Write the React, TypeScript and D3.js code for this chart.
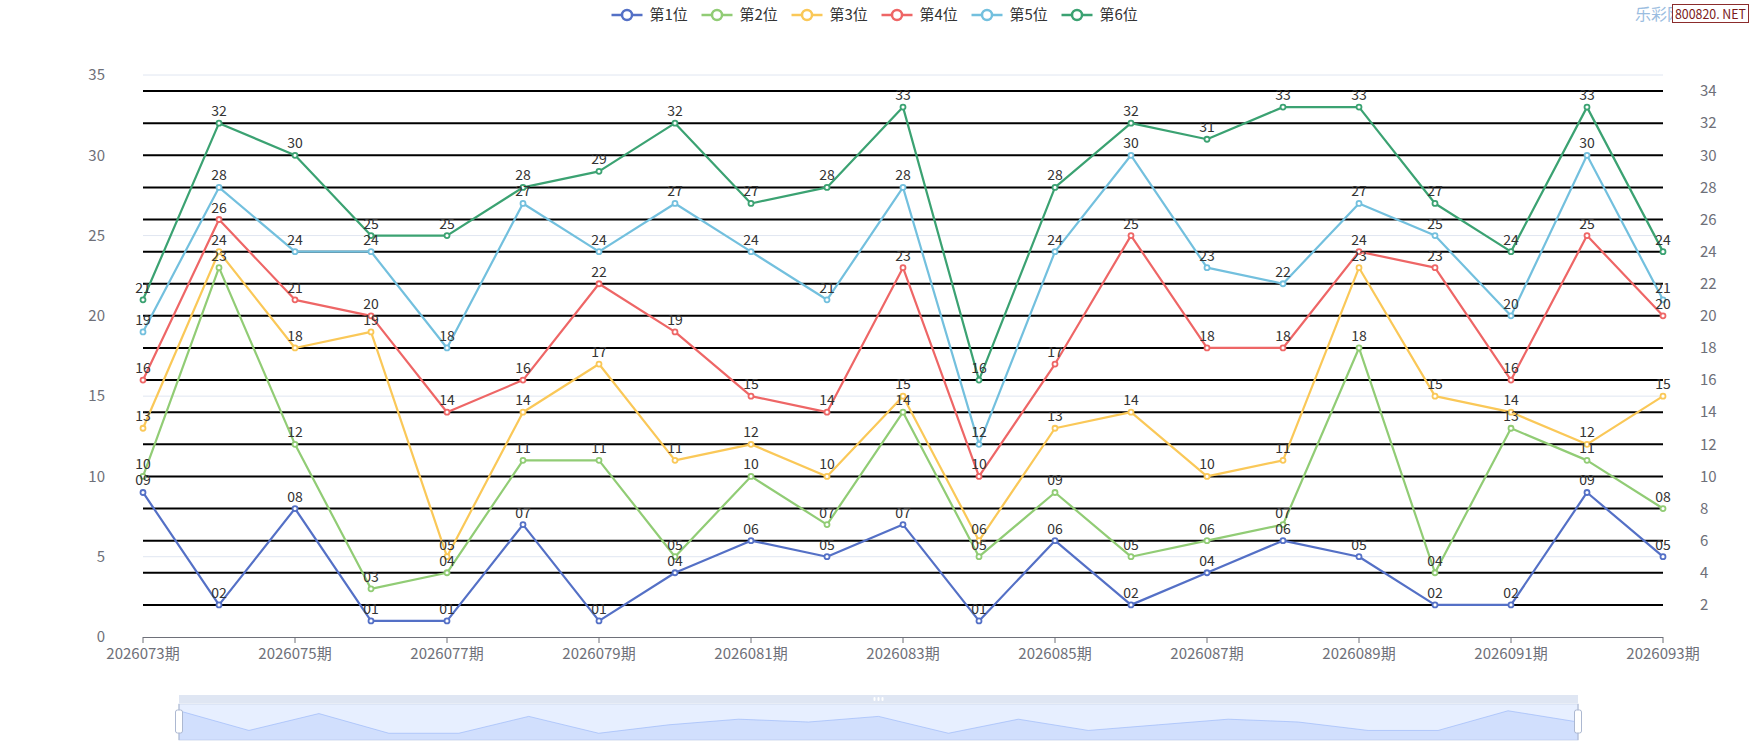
import React from 'react';
import * as d3 from 'd3';

// 期号（横轴）
const periods = [
  '2026073期', '2026074期', '2026075期', '2026076期', '2026077期', '2026078期', '2026079期',
  '2026080期', '2026081期', '2026082期', '2026083期', '2026084期', '2026085期', '2026086期',
  '2026087期', '2026088期', '2026089期', '2026090期', '2026091期', '2026092期', '2026093期',
];

const seriesNames = ['第1位', '第2位', '第3位', '第4位', '第5位', '第6位'];
const seriesColors = ['#5470c6', '#91cc75', '#fac858', '#ee6666', '#73c0de', '#3ba272'];

const pos1 = [9, 2, 8, 1, 1, 7, 1, 4, 6, 5, 7, 1, 6, 2, 4, 6, 5, 2, 2, 9, 5];
const pos2 = [10, 23, 12, 3, 4, 11, 11, 5, 10, 7, 14, 5, 9, 5, 6, 7, 18, 4, 13, 11, 8];
const pos3 = [13, 24, 18, 19, 5, 14, 17, 11, 12, 10, 15, 6, 13, 14, 10, 11, 23, 15, 14, 12, 15];
const pos4 = [16, 26, 21, 20, 14, 16, 22, 19, 15, 14, 23, 10, 17, 25, 18, 18, 24, 23, 16, 25, 20];
const pos5 = [19, 28, 24, 24, 18, 27, 24, 27, 24, 21, 28, 12, 24, 30, 23, 22, 27, 25, 20, 30, 21];
const pos6 = [21, 32, 30, 25, 25, 28, 29, 32, 27, 28, 33, 16, 28, 32, 31, 33, 33, 27, 24, 33, 24];

const allSeries = [pos1, pos2, pos3, pos4, pos5, pos6];

const leftTicks = [0, 5, 10, 15, 20, 25, 30, 35];
const rightTicks = [2, 4, 6, 8, 10, 12, 14, 16, 18, 20, 22, 24, 26, 28, 30, 32, 34];

const W = 1750;
const H = 750;
const plot = { left: 143, right: 1663, top: 75, bottom: 637 };
const slider = { left: 179, right: 1578, top: 695, barBottom: 704, bottom: 740 };
const FONT = '"Noto Sans CJK SC", "Noto Sans", sans-serif';

const pad2 = (v: number) => (v < 10 ? '0' + v : String(v));

export default function App() {
  const x = d3.scalePoint<string>().domain(periods).range([plot.left, plot.right]);
  const y = d3.scaleLinear().domain([0, 35]).range([plot.bottom, plot.top]);

  const line = d3
    .line<number>()
    .x((_, i) => x(periods[i]) as number)
    .y((d) => y(d));

  // dataZoom shadow (first series)
  const ext = d3.extent(pos1) as [number, number];
  const span = ext[1] - ext[0];
  const sx = d3.scalePoint<string>().domain(periods).range([slider.left, slider.right]);
  const sy = d3
    .scaleLinear()
    .domain([ext[0] - span * 0.3, ext[1] + span * 0.3])
    .range([slider.bottom, slider.barBottom]);
  const shadowArea = d3
    .area<number>()
    .x((_, i) => sx(periods[i]) as number)
    .y0(slider.bottom)
    .y1((d) => sy(d));
  const shadowLine = d3
    .line<number>()
    .x((_, i) => sx(periods[i]) as number)
    .y((d) => sy(d));

  const legendStep = 90;
  const legendStart = W / 2 - (legendStep * seriesNames.length - 13) / 2;
  const midSlider = (slider.left + slider.right) / 2;

  return (
    <div style={{ position: 'absolute', left: 0, top: 0, width: W, height: H, background: '#fff' }}>
      <svg width={W} height={H} style={{ display: 'block', fontFamily: FONT }}>
        {/* legend */}
        <g>
          {seriesNames.map((name, i) => {
            const lx = legendStart + i * legendStep;
            return (
              <g key={name}>
                <line x1={lx} x2={lx + 31} y1={15} y2={15} stroke={seriesColors[i]} strokeWidth={2.5} />
                <circle cx={lx + 15.5} cy={15} r={5} fill="#fff" stroke={seriesColors[i]} strokeWidth={2.5} />
                <text x={lx + 38} y={15} dy="0.35em" fontSize={15} fill="#333">
                  {name}
                </text>
              </g>
            );
          })}
        </g>

        {/* watermark */}
        <text x={1635} y={20} fontSize={16} fill="#9bbde0">
          乐彩网
        </text>
        <rect x={1672.5} y={4.5} width={76} height={18} fill="#fff" stroke="#8b2c2c" strokeWidth={1} />
        <text x={1675} y={18.5} fontSize={13} fill="#7a1a1a" textLength={71} lengthAdjust="spacingAndGlyphs">
          800820. NET
        </text>

        {/* left split lines */}
        {leftTicks
          .filter((t) => t > 0)
          .map((t) => (
            <line key={'g' + t} x1={plot.left} x2={plot.right} y1={y(t)} y2={y(t)} stroke="#E0E6F1" strokeWidth={1} />
          ))}
        {/* right split lines (black) */}
        {rightTicks.map((t) => (
          <line key={'b' + t} x1={plot.left} x2={plot.right} y1={y(t)} y2={y(t)} stroke="#000" strokeWidth={2} />
        ))}

        {/* left axis labels */}
        {leftTicks.map((t) => (
          <text key={'l' + t} x={105} y={y(t)} dy="0.35em" textAnchor="end" fontSize={15} fill="#6E7079">
            {t}
          </text>
        ))}
        {/* right axis labels */}
        {rightTicks.map((t) => (
          <text key={'r' + t} x={1700} y={y(t)} dy="0.35em" textAnchor="start" fontSize={15} fill="#6E7079">
            {t}
          </text>
        ))}

        {/* x axis */}
        <line x1={plot.left} x2={plot.right} y1={plot.bottom + 0.5} y2={plot.bottom + 0.5} stroke="#6E7079" strokeWidth={1} />
        {periods.map((p, i) =>
          i % 2 === 0 ? (
            <g key={p}>
              <line
                x1={x(p)}
                x2={x(p)}
                y1={plot.bottom}
                y2={plot.bottom + 6}
                stroke="#6E7079"
                strokeWidth={1}
              />
              <text x={x(p)} y={659} textAnchor="middle" fontSize={15} fill="#6E7079">
                {p}
              </text>
            </g>
          ) : null
        )}

        {/* series */}
        {allSeries.map((data, si) => (
          <g key={'s' + si}>
            <path d={line(data) || ''} fill="none" stroke={seriesColors[si]} strokeWidth={2.2} strokeLinejoin="round" />
            {data.map((v, i) => (
              <circle
                key={i}
                cx={x(periods[i])}
                cy={y(v)}
                r={2.5}
                fill="#fff"
                stroke={seriesColors[si]}
                strokeWidth={1.8}
              />
            ))}
          </g>
        ))}

        {/* labels */}
        {allSeries.map((data, si) => (
          <g key={'t' + si}>
            {data.map((v, i) => (
              <text
                key={i}
                x={x(periods[i])}
                y={y(v) - 7}
                textAnchor="middle"
                fontSize={14}
                fill="#333"
              >
                {pad2(v)}
              </text>
            ))}
          </g>
        ))}

        {/* dataZoom slider */}
        <g>
          <rect
            x={slider.left}
            y={slider.barBottom}
            width={slider.right - slider.left}
            height={slider.bottom - slider.barBottom}
            fill="rgba(135,175,255,0.2)"
            stroke="#d2dbee"
            strokeWidth={1}
          />
          <path d={shadowArea(pos1) || ''} fill="#8fb0f7" fillOpacity={0.25} />
          <path d={shadowLine(pos1) || ''} fill="none" stroke="#8fb0f7" strokeOpacity={0.7} strokeWidth={0.8} />
          <rect
            x={slider.left}
            y={slider.top}
            width={slider.right - slider.left}
            height={slider.barBottom - slider.top - 1}
            fill="#D2DBEE"
            fillOpacity={0.7}
          />
          {[-4, 0, 4].map((dx) => (
            <rect key={dx} x={midSlider + dx - 1} y={slider.top + 2} width={2} height={4} rx={1} fill="#fff" />
          ))}
          {[slider.left, slider.right].map((hx) => (
            <g key={hx}>
              <line x1={hx} x2={hx} y1={slider.barBottom} y2={slider.bottom} stroke="#ACB8D1" strokeWidth={1} />
              <rect x={hx - 3.5} y={710} width={7} height={23} rx={2} fill="#fff" stroke="#ACB8D1" strokeWidth={1} />
            </g>
          ))}
        </g>
      </svg>
    </div>
  );
}
